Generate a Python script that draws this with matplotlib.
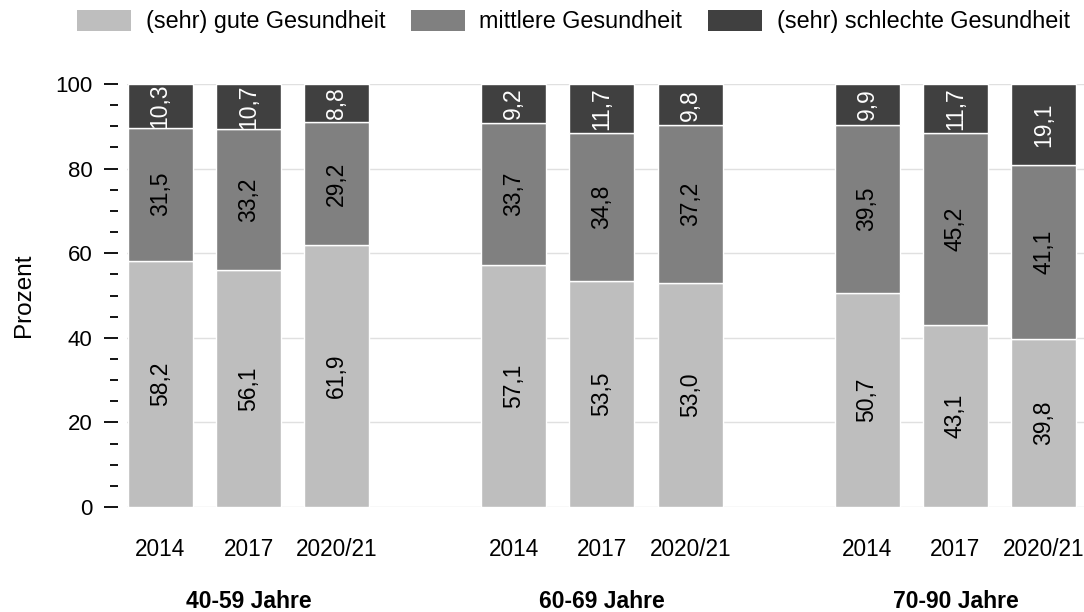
import numpy as np
import matplotlib.pyplot as plt
from matplotlib.patches import Patch
from matplotlib.ticker import MultipleLocator

plt.rcParams['font.family'] = ['Liberation Sans', 'DejaVu Sans']

gruppen = ["40-59 Jahre", "60-69 Jahre", "70-90 Jahre"]
jahre = ["2014", "2017", "2020/21"]
gut = [58.2, 56.1, 61.9, 57.1, 53.5, 53.0, 50.7, 43.1, 39.8]
mittel = [31.5, 33.2, 29.2, 33.7, 34.8, 37.2, 39.5, 45.2, 41.1]
schlecht = [10.3, 10.7, 8.8, 9.2, 11.7, 9.8, 9.9, 11.7, 19.1]
legende = ["(sehr) gute Gesundheit", "mittlere Gesundheit", "(sehr) schlechte Gesundheit"]
farben = ["#bebebe", "#808080", "#404040"]

# positionen: 3 balken je gruppe, eine luecke dazwischen
x = np.array([0, 1, 2, 4, 5, 6, 8, 9, 10], dtype=float)

fig = plt.figure(figsize=(10.84, 6.12), dpi=100)
ax = fig.add_axes([127 / 1084, 105 / 612, 957 / 1084, 423 / 612])

unten = np.zeros(len(gut))
for werte, farbe, textfarbe in zip([gut, mittel, schlecht], farben, ["black", "black", "white"]):
    werte = np.array(werte)
    ax.bar(x, werte, width=0.736, bottom=unten, color=farbe, edgecolor="white", linewidth=1, zorder=2)
    for xi, b, w in zip(x, unten, werte):
        ax.text(xi, b + w / 2, f"{w:.1f}".replace(".", ","), rotation=90, ha="center", va="center",
                fontsize=16.5, color=textfarbe, zorder=3)
    unten += werte

ax.set_xlim(-0.375, 10.455)
ax.set_ylim(0, 100)
ax.yaxis.set_major_locator(MultipleLocator(20))
ax.yaxis.set_minor_locator(MultipleLocator(5))
ax.grid(axis="y", which="major", color="#e0e0e0", linewidth=1, zorder=0)
for s in ax.spines.values():
    s.set_visible(False)
ax.spines["left"].set_position(("outward", 6.5))
ax.tick_params(axis="y", which="major", length=10, width=1.3, labelsize=16, pad=8.5)
ax.tick_params(axis="y", which="minor", length=5.8, width=1.3)
ax.set_xticks(x)
ax.set_xticklabels(jahre * 3, fontsize=16.3)
ax.tick_params(axis="x", length=0, pad=22)

fig.text(24 / 1084, 1 - 295.5 / 612, "Prozent", rotation=90, ha="center", va="center", fontsize=17.5)

for i, g in enumerate(gruppen):
    xm = x[i * 3 + 1]
    px = ax.transData.transform((xm, 0))[0] / fig.bbox.width
    fig.text(px, 1 - 608 / 612, g, ha="center", va="baseline", fontsize=16.5, fontweight="bold")

handles = [Patch(facecolor=f, edgecolor="none") for f in farben]
fig.legend(handles, legende, loc="center", bbox_to_anchor=(573.5 / 1084, 1 - 21.5 / 612), ncol=3,
           frameon=False, fontsize=16.8, handlelength=2.3, handleheight=1.0, handletextpad=0.62,
           columnspacing=1.12, borderpad=0, borderaxespad=0)

fig.savefig("out.png", dpi=100)
